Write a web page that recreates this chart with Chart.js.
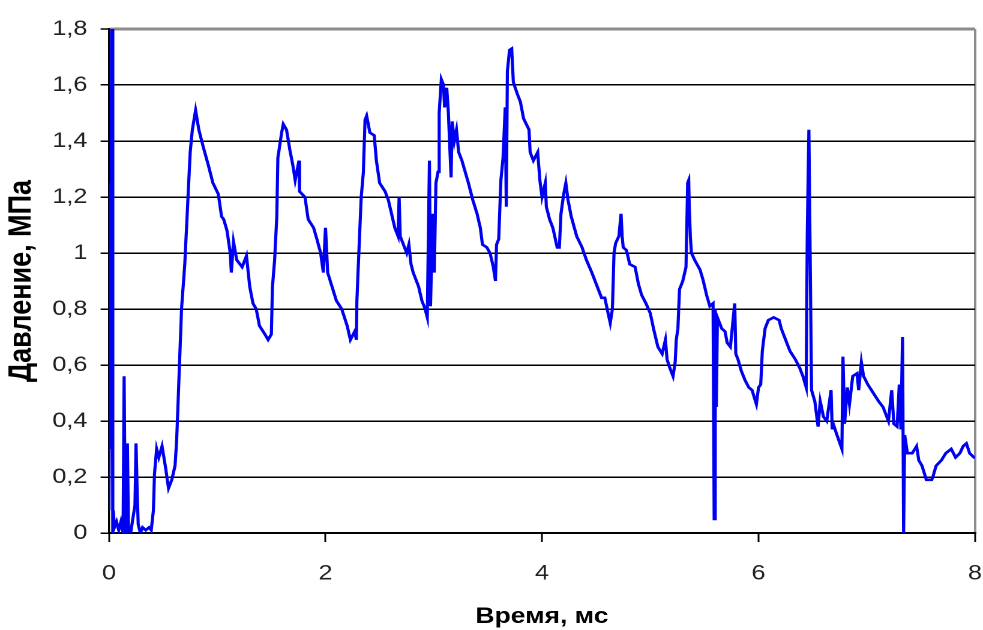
<!DOCTYPE html>
<html>
<head>
<meta charset="utf-8">
<script src="https://cdn.jsdelivr.net/npm/chart.js@4"></script>
<style>
  html, body { margin: 0; padding: 0; background: #fff; overflow: hidden; }
  /* the source picture is stretched sideways, so the chart is drawn narrower and widened */
  #wrap { width: 819px; height: 630px; transform: scaleX(1.2002); transform-origin: 0 0; }
</style>
</head>
<body>
<div id="wrap"><canvas id="myChart"></canvas></div>
<script>
// time, ms
var timeMs = [
    0, 0.01, 0.015, 0.025, 0.035, 0.04, 0.05, 0.07, 0.09, 0.11,
    0.13, 0.14, 0.15, 0.16, 0.17, 0.18, 0.2, 0.22, 0.24, 0.25,
    0.26, 0.27, 0.29, 0.31, 0.34, 0.37, 0.39, 0.41, 0.42, 0.44,
    0.46, 0.49, 0.52, 0.55, 0.58, 0.61, 0.625, 0.65, 0.67, 0.70,
    0.72, 0.75, 0.77, 0.80, 0.83, 0.87, 0.92, 0.96, 1.01, 1.04,
    1.06, 1.09, 1.12, 1.13, 1.15, 1.18, 1.23, 1.27, 1.30, 1.33,
    1.36, 1.39, 1.44, 1.47, 1.50, 1.51, 1.53, 1.55, 1.56, 1.595,
    1.61, 1.64, 1.67, 1.70, 1.72, 1.755, 1.76, 1.81, 1.84, 1.89,
    1.92, 1.955, 1.98, 2.0, 2.02, 2.06, 2.10, 2.15, 2.20, 2.23,
    2.27, 2.285, 2.29, 2.31, 2.33, 2.35, 2.365, 2.38, 2.41, 2.45,
    2.47, 2.50, 2.55, 2.58, 2.61, 2.64, 2.67, 2.68, 2.69, 2.72,
    2.75, 2.77, 2.79, 2.81, 2.86, 2.89, 2.92, 2.94, 2.96, 2.97,
    2.99, 3.005, 3.02, 3.04, 3.05, 3.07, 3.09, 3.10, 3.12, 3.135,
    3.16, 3.17, 3.19, 3.21, 3.23, 3.26, 3.29, 3.32, 3.36, 3.40,
    3.43, 3.45, 3.49, 3.52, 3.55, 3.57, 3.58, 3.60, 3.62, 3.64,
    3.66, 3.67, 3.68, 3.70, 3.72, 3.735, 3.77, 3.80, 3.83, 3.88,
    3.89, 3.92, 3.96, 3.98, 4.0, 4.03, 4.04, 4.07, 4.10, 4.14,
    4.16, 4.175, 4.20, 4.22, 4.24, 4.27, 4.32, 4.37, 4.41, 4.46,
    4.50, 4.55, 4.58, 4.61, 4.63, 4.65, 4.665, 4.68, 4.71, 4.73,
    4.74, 4.75, 4.78, 4.81, 4.86, 4.89, 4.92, 4.96, 5.0, 5.03,
    5.07, 5.11, 5.14, 5.155, 5.18, 5.21, 5.23, 5.24, 5.255, 5.27,
    5.30, 5.33, 5.345, 5.355, 5.36, 5.37, 5.38, 5.41, 5.46, 5.49,
    5.52, 5.55, 5.58, 5.59, 5.60, 5.61, 5.62, 5.66, 5.69, 5.71,
    5.74, 5.78, 5.79, 5.81, 5.84, 5.875, 5.91, 5.94, 5.98, 6.0,
    6.02, 6.035, 6.06, 6.09, 6.14, 6.19, 6.21, 6.25, 6.29, 6.34,
    6.38, 6.41, 6.44, 6.45, 6.465, 6.475, 6.49, 6.52, 6.55, 6.57,
    6.60, 6.63, 6.67, 6.68, 6.69, 6.72, 6.77, 6.78, 6.795, 6.82,
    6.84, 6.87, 6.91, 6.925, 6.95, 6.97, 7.01, 7.06, 7.11, 7.15,
    7.20, 7.23, 7.25, 7.28, 7.30, 7.315, 7.33, 7.34, 7.35, 7.375,
    7.42, 7.46, 7.48, 7.51, 7.55, 7.60, 7.61, 7.64, 7.69, 7.73,
    7.78, 7.82, 7.86, 7.89, 7.92, 7.95, 7.99, 8.0
];

// pressure, MPa
var pressure = [
    0.08, 1.25, 0.3, 1.9, 0, 0.08, 0.02, 0.04, 0.01, 0.04,
    0, 0.56, 0.02, 0, 0.32, 0.01, 0, 0.05, 0.1, 0.32,
    0.15, 0.03, 0, 0.02, 0.01, 0.02, 0.01, 0.08, 0.21, 0.30,
    0.27, 0.31, 0.24, 0.16, 0.19, 0.24, 0.33, 0.59, 0.80, 0.96,
    1.12, 1.36, 1.44, 1.51, 1.44, 1.38, 1.31, 1.25, 1.21, 1.13,
    1.12, 1.08, 1.0, 0.93, 1.04, 0.975, 0.95, 0.99, 0.88, 0.82,
    0.80, 0.74, 0.71, 0.69, 0.71, 0.88, 0.975, 1.13, 1.34, 1.43,
    1.46, 1.44, 1.37, 1.31, 1.26, 1.33, 1.22, 1.20, 1.12, 1.09,
    1.05, 1.0, 0.93, 1.09, 0.93, 0.88, 0.83, 0.80, 0.74, 0.69,
    0.72, 0.69, 0.83, 1.02, 1.20, 1.29, 1.475, 1.49, 1.43, 1.42,
    1.33, 1.25, 1.22, 1.19, 1.14, 1.09, 1.06, 1.20, 1.06, 1.03,
    1.0, 1.03, 0.96, 0.93, 0.88, 0.83, 0.80, 0.77, 1.33, 0.81,
    1.14, 0.93, 1.25, 1.29, 1.50, 1.62, 1.60, 1.52, 1.59, 1.50,
    1.27, 1.47, 1.40, 1.44, 1.36, 1.33, 1.29, 1.25, 1.19, 1.14,
    1.09, 1.03, 1.02, 1.0, 0.95, 0.90, 1.03, 1.05, 1.26, 1.34,
    1.52, 1.165, 1.65, 1.725, 1.73, 1.61, 1.57, 1.54, 1.48, 1.44,
    1.36, 1.33, 1.36, 1.26, 1.20, 1.25, 1.165, 1.12, 1.09, 1.02,
    1.02, 1.14, 1.21, 1.25, 1.19, 1.13, 1.06, 1.02, 0.975, 0.93,
    0.89, 0.84, 0.84, 0.785, 0.75, 0.80, 1.0, 1.035, 1.06, 1.14,
    1.06, 1.02, 1.01, 0.96, 0.95, 0.89, 0.85, 0.82, 0.785, 0.73,
    0.665, 0.64, 0.69, 0.62, 0.59, 0.56, 0.61, 0.69, 0.73, 0.87,
    0.90, 0.95, 1.25, 1.26, 1.165, 1.06, 1.0, 0.975, 0.94, 0.90,
    0.85, 0.81, 0.82, 0.05, 0.80, 0.45, 0.77, 0.73, 0.72, 0.68,
    0.665, 0.82, 0.64, 0.62, 0.58, 0.546, 0.52, 0.51, 0.46, 0.52,
    0.53, 0.65, 0.73, 0.76, 0.77, 0.76, 0.73, 0.69, 0.65, 0.62,
    0.59, 0.56, 0.52, 1.06, 1.44, 1.06, 0.51, 0.47, 0.38, 0.47,
    0.415, 0.40, 0.51, 0.37, 0.39, 0.355, 0.30, 0.63, 0.39, 0.52,
    0.46, 0.56, 0.57, 0.51, 0.61, 0.56, 0.53, 0.50, 0.47, 0.45,
    0.40, 0.51, 0.39, 0.38, 0.53, 0.37, 0.70, 0, 0.35, 0.285,
    0.285, 0.31, 0.26, 0.24, 0.19, 0.19, 0.20, 0.24, 0.26, 0.285,
    0.30, 0.27, 0.285, 0.31, 0.32, 0.285, 0.27, 0.27
];

var xTickLabels = ['0', '2', '4', '6', '8'];
var yTickLabels = ['0', '0,2', '0,4', '0,6', '0,8', '1', '1,2', '1,4', '1,6', '1,8'];

var fontFamily = "'Liberation Sans', Arial, sans-serif";

var points = timeMs.map(function (t, i) { return { x: t, y: pressure[i] }; });

const data = {
    datasets: [{
        data: points,
        borderColor: '#0000f0',
        borderWidth: 2.6,
        pointRadius: 0,
        tension: 0,
        fill: false
    }]
};

const config = {
    type: 'line',
    data: data,
    options: {
        animation: false,
        responsive: true,
        maintainAspectRatio: false,
        devicePixelRatio: 2,
        layout: { padding: { top: 29, right: 6.6, bottom: 0, left: 0 } },
        plugins: { legend: { display: false }, tooltip: { enabled: false } },
        scales: {
            x: {
                type: 'linear',
                min: 0,
                max: 8,
                // fixed band height; the end labels fit inside the right padding
                afterFit: function (scale) {
                    scale.height = 97;
                    scale.paddingLeft = 0;
                    scale.paddingRight = 0;
                },
                ticks: {
                    stepSize: 2,
                    padding: 19,
                    color: '#222',
                    font: { family: fontFamily, size: 21 },
                    callback: function (v) { return xTickLabels[Math.round(v / 2)]; }
                },
                grid: {
                    drawOnChartArea: true,
                    color: function (c) { return c.tick && c.tick.value === 8 ? '#8c8c8c' : 'rgba(0,0,0,0)'; },
                    lineWidth: 2,
                    tickColor: '#000',
                    tickLength: 9,
                    tickWidth: 1.5
                },
                border: { display: true, color: '#000', width: 2 },
                title: {
                    display: true,
                    text: 'Время, мс',
                    color: '#000',
                    padding: { top: 0, bottom: 0 },
                    font: { family: fontFamily, size: 22, weight: 'bold' }
                }
            },
            y: {
                min: 0,
                max: 1.8,
                afterFit: function (scale) { scale.width = 90.8; },
                ticks: {
                    stepSize: 0.2,
                    autoSkip: false,
                    padding: 11,
                    color: '#222',
                    font: { family: fontFamily, size: 21 },
                    callback: function (v) { return yTickLabels[Math.round(v / 0.2)]; }
                },
                grid: {
                    color: function (c) { return c.tick && Math.abs(c.tick.value - 1.8) < 1e-6 ? '#8c8c8c' : '#000'; },
                    lineWidth: function (c) { return c.tick && Math.abs(c.tick.value - 1.8) < 1e-6 ? 3 : 1.5; },
                    tickColor: '#000',
                    tickLength: 7,
                    tickWidth: 1.5
                },
                border: { display: true, color: '#000', width: 1.7 },
                title: {
                    display: true,
                    text: 'Давление, МПа',
                    color: '#000',
                    padding: { top: 2, bottom: 0 },
                    font: { family: fontFamily, size: 27, weight: 'bold' }
                }
            }
        }
    }
};

var chartRef = new Chart(document.getElementById('myChart'), config);
</script>
</body>
</html>
